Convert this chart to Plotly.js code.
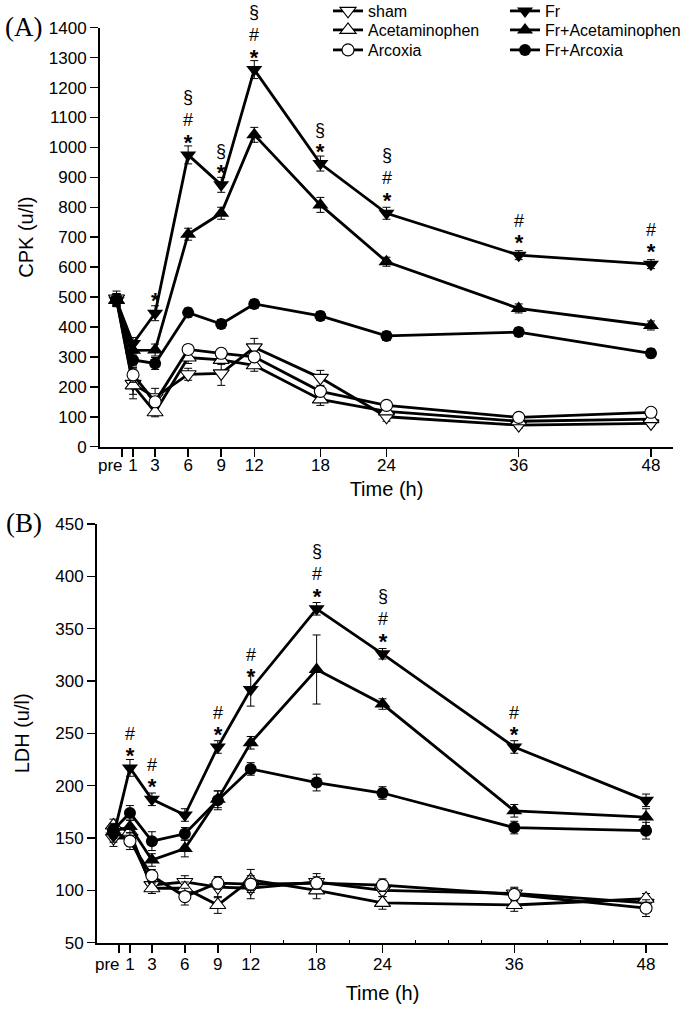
<!DOCTYPE html>
<html>
<head>
<meta charset="utf-8">
<script src="https://cdn.plot.ly/plotly-3.0.1.min.js"></script>
<style>html,body{margin:0;padding:0;background:#fff;}#chart{width:691px;height:1012px;}</style>
</head>
<body>
<div id="chart"></div>
<script>
// ---- data ----
var times = [-0.5, 1, 3, 6, 9, 12, 18, 24, 36, 48];
var tickVals = [0, 1, 3, 6, 9, 12, 18, 24, 36, 48];
var tickText = ['pre', '1', '3', '6', '9', '12', '18', '24', '36', '48'];

// CPK (u/l)
var cpkSham     = [495, 210, 165, 242, 245, 332, 230, 100, 72, 78];
var cpkAcet     = [490, 205, 115, 298, 290, 272, 158, 118, 85, 92];
var cpkArcoxia  = [492, 240, 150, 325, 312, 300, 185, 138, 98, 115];
var cpkFr       = [488, 345, 446, 975, 875, 1260, 946, 780, 640, 610];
var cpkFrAcet   = [490, 322, 323, 710, 780, 1042, 808, 618, 462, 405];
var cpkFrArc    = [490, 290, 278, 448, 410, 477, 437, 370, 383, 312];

var cpkShamErr    = [25, 50, 30, 20, 40, 30, 25, 15, 10, 10];
var cpkAcetErr    = [20, 30, 15, 20, 15, 20, 20, 10, 10, 10];
var cpkArcoxiaErr = [20, 25, 15, 15, 15, 15, 15, 12, 10, 10];
var cpkFrErr      = [20, 20, 25, 30, 25, 30, 25, 20, 15, 15];
var cpkFrAcetErr  = [20, 20, 20, 20, 20, 25, 25, 15, 15, 15];
var cpkFrArcErr   = [20, 20, 20, 15, 15, 15, 15, 15, 15, 15];

// LDH (u/l)
var ldhSham     = [150, 150, 105, 108, 103, 102, 108, 100, 97, 88];
var ldhAcet     = [162, 156, 102, 102, 86, 110, 100, 88, 86, 92];
var ldhArcoxia  = [157, 147, 114, 94, 107, 106, 107, 105, 96, 83];
var ldhFr       = [152, 217, 187, 172, 237, 292, 369, 326, 237, 186];
var ldhFrAcet   = [156, 161, 129, 140, 187, 241, 311, 278, 176, 170];
var ldhFrArc    = [158, 174, 147, 154, 186, 216, 203, 193, 160, 157];

var ldhShamErr    = [8, 8, 5, 6, 10, 10, 8, 6, 6, 5];
var ldhAcetErr    = [6, 6, 5, 6, 8, 10, 8, 6, 6, 5];
var ldhArcoxiaErr = [6, 8, 6, 8, 6, 8, 6, 6, 6, 8];
var ldhFrErr      = [6, 8, 6, 6, 6, 16, 6, 5, 6, 6];
var ldhFrAcetErr  = [6, 6, 6, 8, 8, 6, 33, 5, 6, 8];
var ldhFrArcErr   = [6, 7, 9, 6, 9, 6, 8, 6, 6, 8];

// significance marks above the Fr series
var sigCPK = ['', '', '*', '§<br>#<br>*', '§<br>*', '§<br>#<br>*', '§<br>*', '§<br>#<br>*', '#<br>*', '#<br>*'];
var sigLDH = ['', '#<br>*', '#<br>*', '', '#<br>*', '#<br>*', '§<br>#<br>*', '§<br>#<br>*', '#<br>*', ''];

// ---- series definitions ----
var groups = [
  {name: 'sham',             symbol: 'triangle-down', open: true,  cpk: cpkSham,    cpkErr: cpkShamErr,    ldh: ldhSham,    ldhErr: ldhShamErr},
  {name: 'Acetaminophen',    symbol: 'triangle-up',   open: true,  cpk: cpkAcet,    cpkErr: cpkAcetErr,    ldh: ldhAcet,    ldhErr: ldhAcetErr},
  {name: 'Arcoxia',          symbol: 'circle',        open: true,  cpk: cpkArcoxia, cpkErr: cpkArcoxiaErr, ldh: ldhArcoxia, ldhErr: ldhArcoxiaErr},
  {name: 'Fr',               symbol: 'triangle-down', open: false, cpk: cpkFr,      cpkErr: cpkFrErr,      ldh: ldhFr,      ldhErr: ldhFrErr},
  {name: 'Fr+Acetaminophen', symbol: 'triangle-up',   open: false, cpk: cpkFrAcet,  cpkErr: cpkFrAcetErr,  ldh: ldhFrAcet,  ldhErr: ldhFrAcetErr},
  {name: 'Fr+Arcoxia',       symbol: 'circle',        open: false, cpk: cpkFrArc,   cpkErr: cpkFrArcErr,   ldh: ldhFrArc,   ldhErr: ldhFrArcErr}
];
var legendIds = ['legend', 'legend2', 'legend3', 'legend4', 'legend5', 'legend6'];

function makeTrace(g, gi, yvals, err, xa, ya, showLegend) {
  var isCircle = g.symbol === 'circle';
  return {
    type: 'scatter', mode: 'lines+markers',
    x: times, y: yvals, name: g.name,
    xaxis: xa, yaxis: ya,
    showlegend: showLegend, legend: legendIds[gi],
    line: {color: '#000', width: 2.8},
    marker: {
      symbol: g.symbol,
      size: isCircle ? 12 : 14,
      color: g.open ? '#fff' : '#000',
      line: {color: '#000', width: g.open ? 1.1 : 0}
    },
    error_y: {type: 'data', array: err, visible: true, color: '#000', thickness: 1, width: 4}
  };
}

var traces = [];
groups.forEach(function (g, i) { traces.push(makeTrace(g, i, g.cpk, g.cpkErr, 'x', 'y', true)); });
groups.forEach(function (g, i) { traces.push(makeTrace(g, i, g.ldh, g.ldhErr, 'x2', 'y2', false)); });

var fam = '"Liberation Sans", Arial, sans-serif';
var annFont = {family: fam, size: 18, color: '#000'};

function sigText(s) { return s.replace('*', '<span style="font-size:22px"><b>*</b></span>'); }

var annotations = [];
times.forEach(function (t, i) {
  if (sigCPK[i]) annotations.push({x: t, y: cpkFr[i], xref: 'x', yref: 'y', text: sigText(sigCPK[i]), showarrow: false,
    yanchor: 'bottom', yshift: -2, font: annFont});
  if (sigLDH[i]) annotations.push({x: t, y: ldhFr[i], xref: 'x2', yref: 'y2', text: sigText(sigLDH[i]), showarrow: false,
    yanchor: 'bottom', yshift: -2, font: annFont});
});
// "pre" tick label, set slightly left of its tick as in the original
annotations.push({x: tickVals[0], y: 0, xref: 'x', yref: 'y', text: tickText[0], showarrow: false, xanchor: 'right', yanchor: 'top',
  xshift: 3, yshift: -7, font: {family: fam, size: 17, color: '#000'}});
annotations.push({x: tickVals[0], y: 50, xref: 'x2', yref: 'y2', text: tickText[0], showarrow: false, xanchor: 'right', yanchor: 'top',
  xshift: 3, yshift: -10, font: {family: fam, size: 17, color: '#000'}});
annotations.push({text: '(A)', xref: 'paper', yref: 'paper', x: 3 / 691, y: 1 - 27 / 1012, xanchor: 'left', yanchor: 'middle',
  showarrow: false, font: {family: '"Liberation Serif", "Times New Roman", serif', size: 27, color: '#000'}});
annotations.push({text: '(B)', xref: 'paper', yref: 'paper', x: 4 / 691, y: 1 - 523 / 1012, xanchor: 'left', yanchor: 'middle',
  showarrow: false, font: {family: '"Liberation Serif", "Times New Roman", serif', size: 27, color: '#000'}});

var axisTickText = tickText.slice();
axisTickText[0] = '';

function xAxis(domain, anchor, minorTicks, labelShift, standoff) {
  var ax = {
    domain: domain, anchor: anchor, range: [-2, 50],
    tickmode: 'array', tickvals: tickVals, ticktext: axisTickText, tickangle: 0,
    ticks: 'outside', ticklen: 8, tickwidth: 1.5, tickcolor: '#000',
    ticklabelstandoff: labelShift,
    showline: true, linecolor: '#000', linewidth: 2, mirror: false,
    showgrid: false, zeroline: false,
    tickfont: {family: fam, size: 17, color: '#000'},
    title: {text: 'Time (h)', font: {family: fam, size: 20, color: '#000'}, standoff: standoff}
  };
  if (minorTicks) ax.minor = {tickvals: [15, 21, 27, 30, 33, 39, 42, 45], ticks: 'inside', ticklen: 3, tickcolor: '#000', tickwidth: 1};
  return ax;
}
function yAxis(domain, anchor, range, dtick, title, standoff) {
  return {
    domain: domain, anchor: anchor, range: range, dtick: dtick, tick0: 0,
    ticks: 'outside', ticklen: 8, tickwidth: 1.5, tickcolor: '#000',
    showline: true, linecolor: '#000', linewidth: 2, mirror: false,
    showgrid: false, zeroline: false,
    tickfont: {family: fam, size: 17, color: '#000'},
    title: {text: title, font: {family: fam, size: 20, color: '#000'}, standoff: standoff}
  };
}

function legendBox(xpx, ypx) {
  return {x: xpx / 691, y: 1 - ypx / 1012, xanchor: 'left', yanchor: 'middle', bgcolor: 'rgba(0,0,0,0)', borderwidth: 0,
    font: {family: fam, size: 16, color: '#000'}};
}

var layout = {
  width: 691, height: 1012,
  margin: {l: 0, r: 0, t: 0, b: 0, autoexpand: false},
  paper_bgcolor: '#fff', plot_bgcolor: '#fff',
  font: {family: fam, color: '#000'},
  showlegend: true,
  xaxis: xAxis([100 / 691, 673 / 691], 'y', false, -6, 8),
  yaxis: yAxis([1 - 446.7 / 1012, 1 - 27.7 / 1012], 'x', [0, 1400], 100, 'CPK (u/l)', 10),
  xaxis2: xAxis([97 / 691, 668 / 691], 'y2', true, -3, 13),
  yaxis2: yAxis([1 - 942.7 / 1012, 1 - 524 / 1012], 'x2', [50, 450], 50, 'LDH (u/l)', 20),
  legend:  legendBox(328, 11),
  legend2: legendBox(328, 30),
  legend3: legendBox(328, 50),
  legend4: legendBox(505, 11),
  legend5: legendBox(505, 30),
  legend6: legendBox(505, 50),
  annotations: annotations
};

Plotly.newPlot('chart', traces, layout, {staticPlot: true, displayModeBar: false});
</script>
</body>
</html>
